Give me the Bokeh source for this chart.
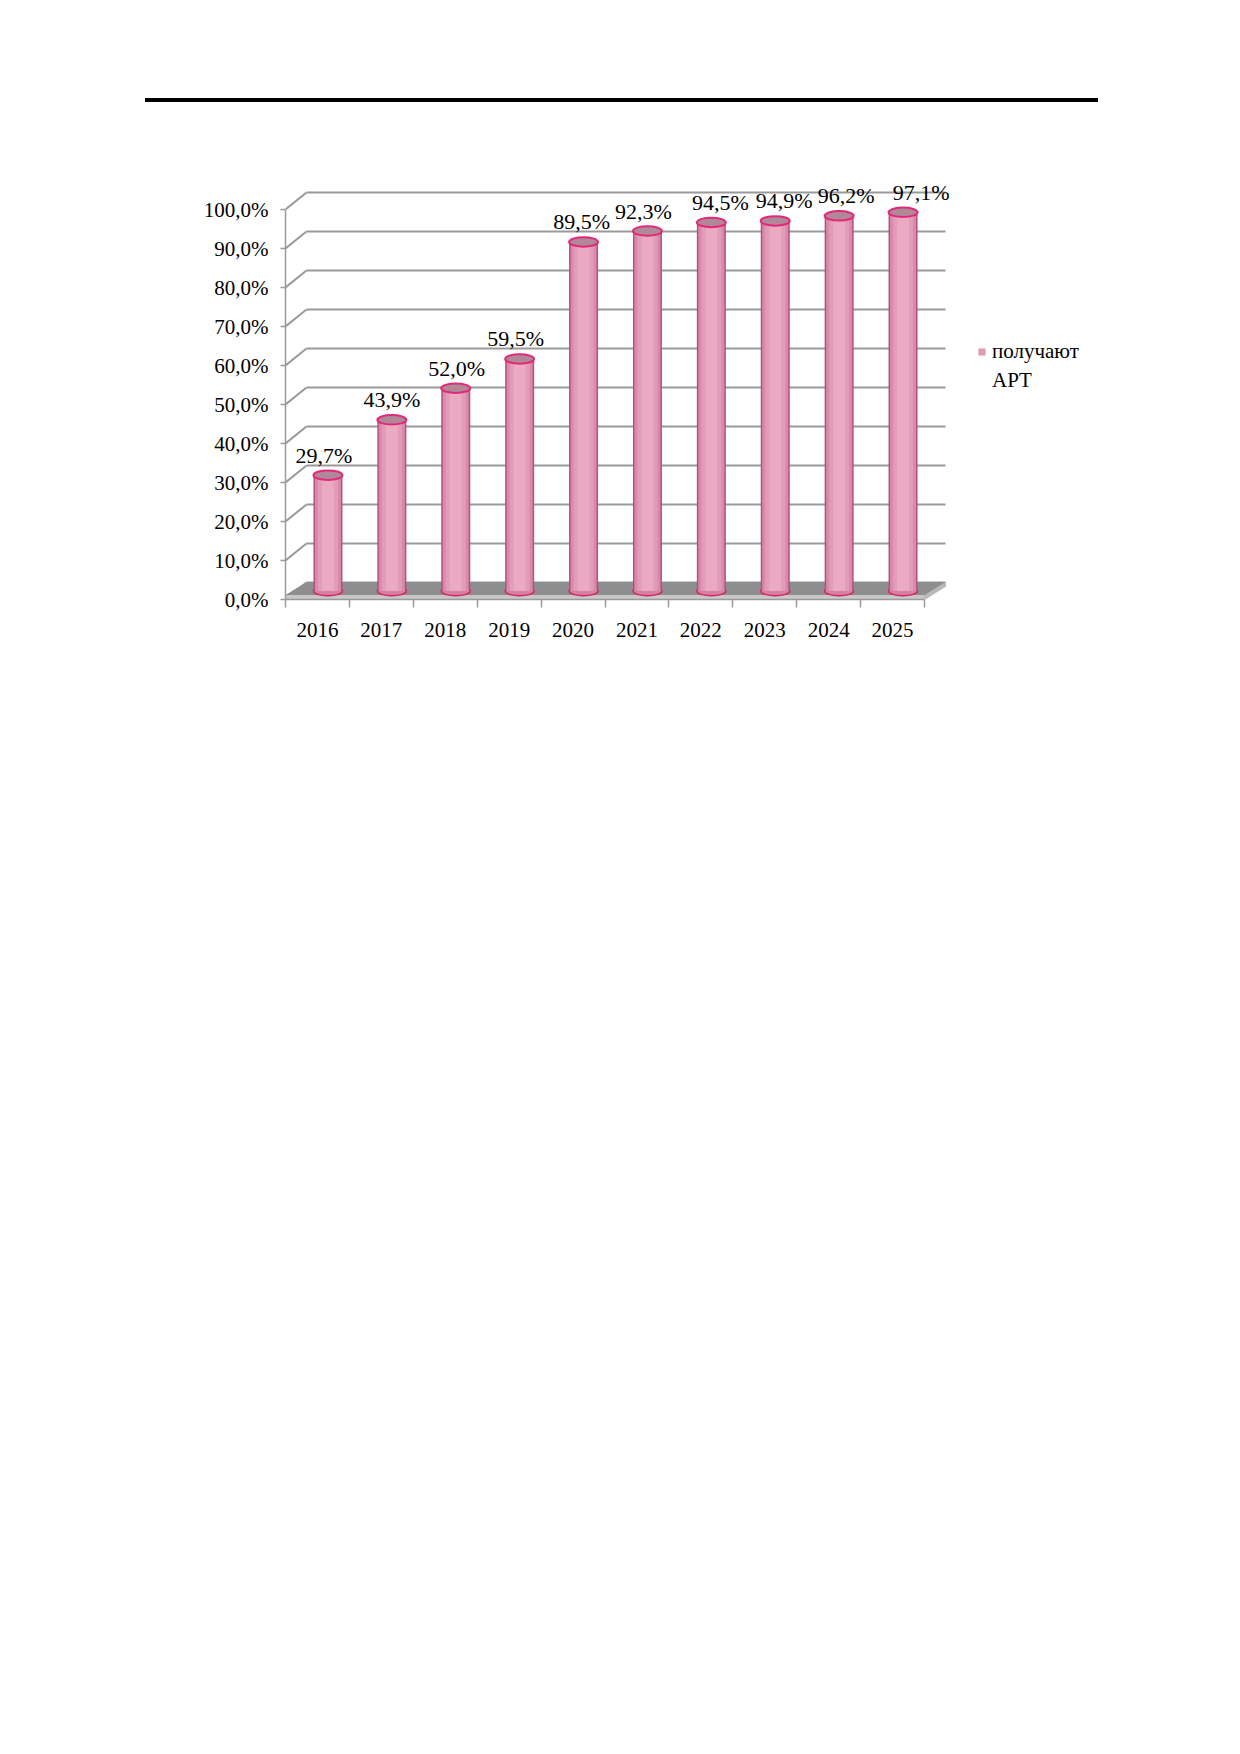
import numpy as np
from bokeh.plotting import figure
from bokeh.models import (Range1d, FixedTicker, Legend, LegendItem,
                          ColumnDataSource, Div)
from bokeh.layouts import column
from bokeh.embed import file_html
from bokeh.resources import INLINE
from bokeh.core.properties import value

# ---------------- data ----------------
YEARS = ["2016", "2017", "2018", "2019", "2020", "2021", "2022", "2023", "2024", "2025"]
VALUES = [29.7, 43.9, 52.0, 59.5, 89.5, 92.3, 94.5, 94.9, 96.2, 97.1]
VALUE_LABELS = ["29,7%", "43,9%", "52,0%", "59,5%", "89,5%", "92,3%",
                "94,5%", "94,9%", "96,2%", "97,1%"]
Y_TICKS = [0, 10, 20, 30, 40, 50, 60, 70, 80, 90, 100]
Y_TICK_LABELS = ["0,0%", "10,0%", "20,0%", "30,0%", "40,0%", "50,0%",
                 "60,0%", "70,0%", "80,0%", "90,0%", "100,0%"]
LEGEND_LINES = ["получают", "АРТ"]

# ---------------- style / geometry ----------------
FONT = "Liberation Serif"
PX_X = 63.9          # pixels per category
PX_Y = 3.9           # pixels per percent
FRAME_W = 920
FRAME_H = 447
DX = 21 / PX_X       # depth offset (3D) in x units
DY = 17 / PX_Y       # depth offset (3D) in y units
CYL_W_PX = [29, 26, 20, 12]
CYL_COLORS = ["#B0527E", "#D88BA9", "#E29CB6", "#E9AAC2"]
ELL_H = 9.5 / PX_Y
GRID_COLOR = "#9A9A9A"
LABEL_NUDGE_PX = [-4, 0, 1, -4, -2, -4, 9, 9, 7, 18]

n = len(YEARS)
idx = np.arange(n)
cx = idx + 0.5 + DX / 2
base = np.full(n, DY / 2)
tops = np.array(VALUES) + DY / 2

src = ColumnDataSource(dict(cx=cx, base=base, top=tops, label=VALUE_LABELS,
                            nudge=LABEL_NUDGE_PX))

# ---------------- horizontal rule above the chart ----------------
rule = Div(text=('<div style="padding-left:140px;padding-top:93px;">'
                 '<div style="width:953px;height:3.5px;background:#000;"></div></div>'),
           width=1224, height=102)

# ---------------- chart figure ----------------
p = figure(width=1224, height=40 + FRAME_H + 80,
           x_range=Range1d(0, FRAME_W / PX_X), y_range=Range1d(0, FRAME_H / PX_Y),
           toolbar_location=None, output_backend="svg",
           min_border_left=285, min_border_right=1224 - 285 - FRAME_W,
           min_border_top=40, min_border_bottom=80, outline_line_color=None)
p.xgrid.visible = False
p.ygrid.visible = False

# back wall gridlines and side wall diagonals
yt = np.array(Y_TICKS, dtype=float)
p.segment(x0=np.full(len(yt), DX), y0=yt + DY, x1=np.full(len(yt), n + DX), y1=yt + DY,
          line_color=GRID_COLOR, line_width=2)
p.segment(x0=np.zeros(len(yt)), y0=yt, x1=np.full(len(yt), DX), y1=yt + DY,
          line_color=GRID_COLOR, line_width=2)

# floor slab
FT = 1.0
p.patch(x=[0, n, n + DX, DX], y=[FT, FT, DY, DY], fill_color="#8E8E8E", line_color="#8E8E8E")
p.patch(x=[0, n, n, 0], y=[0, 0, FT, FT], fill_color="#C8C8C8", line_color="#C8C8C8")
p.patch(x=[n, n + DX, n + DX, n], y=[0, DY - FT, DY, FT], fill_color="#B8B8B8",
        line_color="#B8B8B8")

# cylinders
p.ellipse(x="cx", y="base", width=CYL_W_PX[0] / PX_X, height=ELL_H, source=src,
          fill_color="#D4809F", line_color="#D81E6C", line_width=1.5)
bar_renderers = []
for w, c in zip(CYL_W_PX, CYL_COLORS):
    r = p.vbar(x="cx", bottom="base", top="top", width=w / PX_X, source=src,
               fill_color=c, line_color=None)
    bar_renderers.append(r)
p.ellipse(x="cx", y="top", width=CYL_W_PX[0] / PX_X, height=ELL_H, source=src,
          fill_color="#B08898", line_color="#E2287A", line_width=2)

# value labels
p.text(x="cx", y="top", text="label", source=src, x_offset="nudge", y_offset=-20,
       text_font=value(FONT), text_font_size="22px", text_color="black",
       text_align="center", text_baseline="middle")

# axes
xa = p.xaxis[0]
xa.ticker = FixedTicker(ticks=[float(i) + 0.5 for i in idx],
                        minor_ticks=[float(i) for i in range(n + 1)])
xa.major_label_overrides = {float(i) + 0.5: YEARS[i] for i in idx}
xa.bounds = (0, n)
xa.axis_line_color = GRID_COLOR
xa.axis_line_width = 1.5
xa.major_tick_out = 0
xa.major_tick_in = 0
xa.minor_tick_out = 8
xa.minor_tick_in = 0
xa.minor_tick_line_color = GRID_COLOR
xa.minor_tick_line_width = 1.5
xa.major_label_standoff = 15
xa.major_label_text_font = FONT
xa.major_label_text_font_size = "21px"
xa.major_label_text_color = "black"

ya = p.yaxis[0]
ya.ticker = FixedTicker(ticks=Y_TICKS)
ya.major_label_overrides = {v: s for v, s in zip(Y_TICKS, Y_TICK_LABELS)}
ya.bounds = (0, 100)
ya.axis_line_color = GRID_COLOR
ya.axis_line_width = 1.5
ya.major_tick_out = 5
ya.major_tick_in = 0
ya.major_tick_line_color = GRID_COLOR
ya.major_tick_line_width = 1.5
ya.minor_tick_line_color = None
ya.major_label_standoff = 12
ya.major_label_text_font = FONT
ya.major_label_text_font_size = "21px"
ya.major_label_text_color = "black"

# legend
dummy = p.scatter(x=[], y=[], fill_alpha=0, line_alpha=0)
legend = Legend(items=[LegendItem(label=LEGEND_LINES[0], renderers=[bar_renderers[2]]),
                       LegendItem(label=LEGEND_LINES[1], renderers=[dummy])],
                location=(692, 206), glyph_width=9, glyph_height=9,
                label_standoff=6, spacing=4, padding=0, margin=0,
                border_line_color=None, background_fill_alpha=0,
                label_text_font=FONT, label_text_font_size="21px",
                label_text_color="black", label_height=20)
p.add_layout(legend)

layout = column(rule, p)
open("out.html", "w").write(file_html(layout, INLINE))
